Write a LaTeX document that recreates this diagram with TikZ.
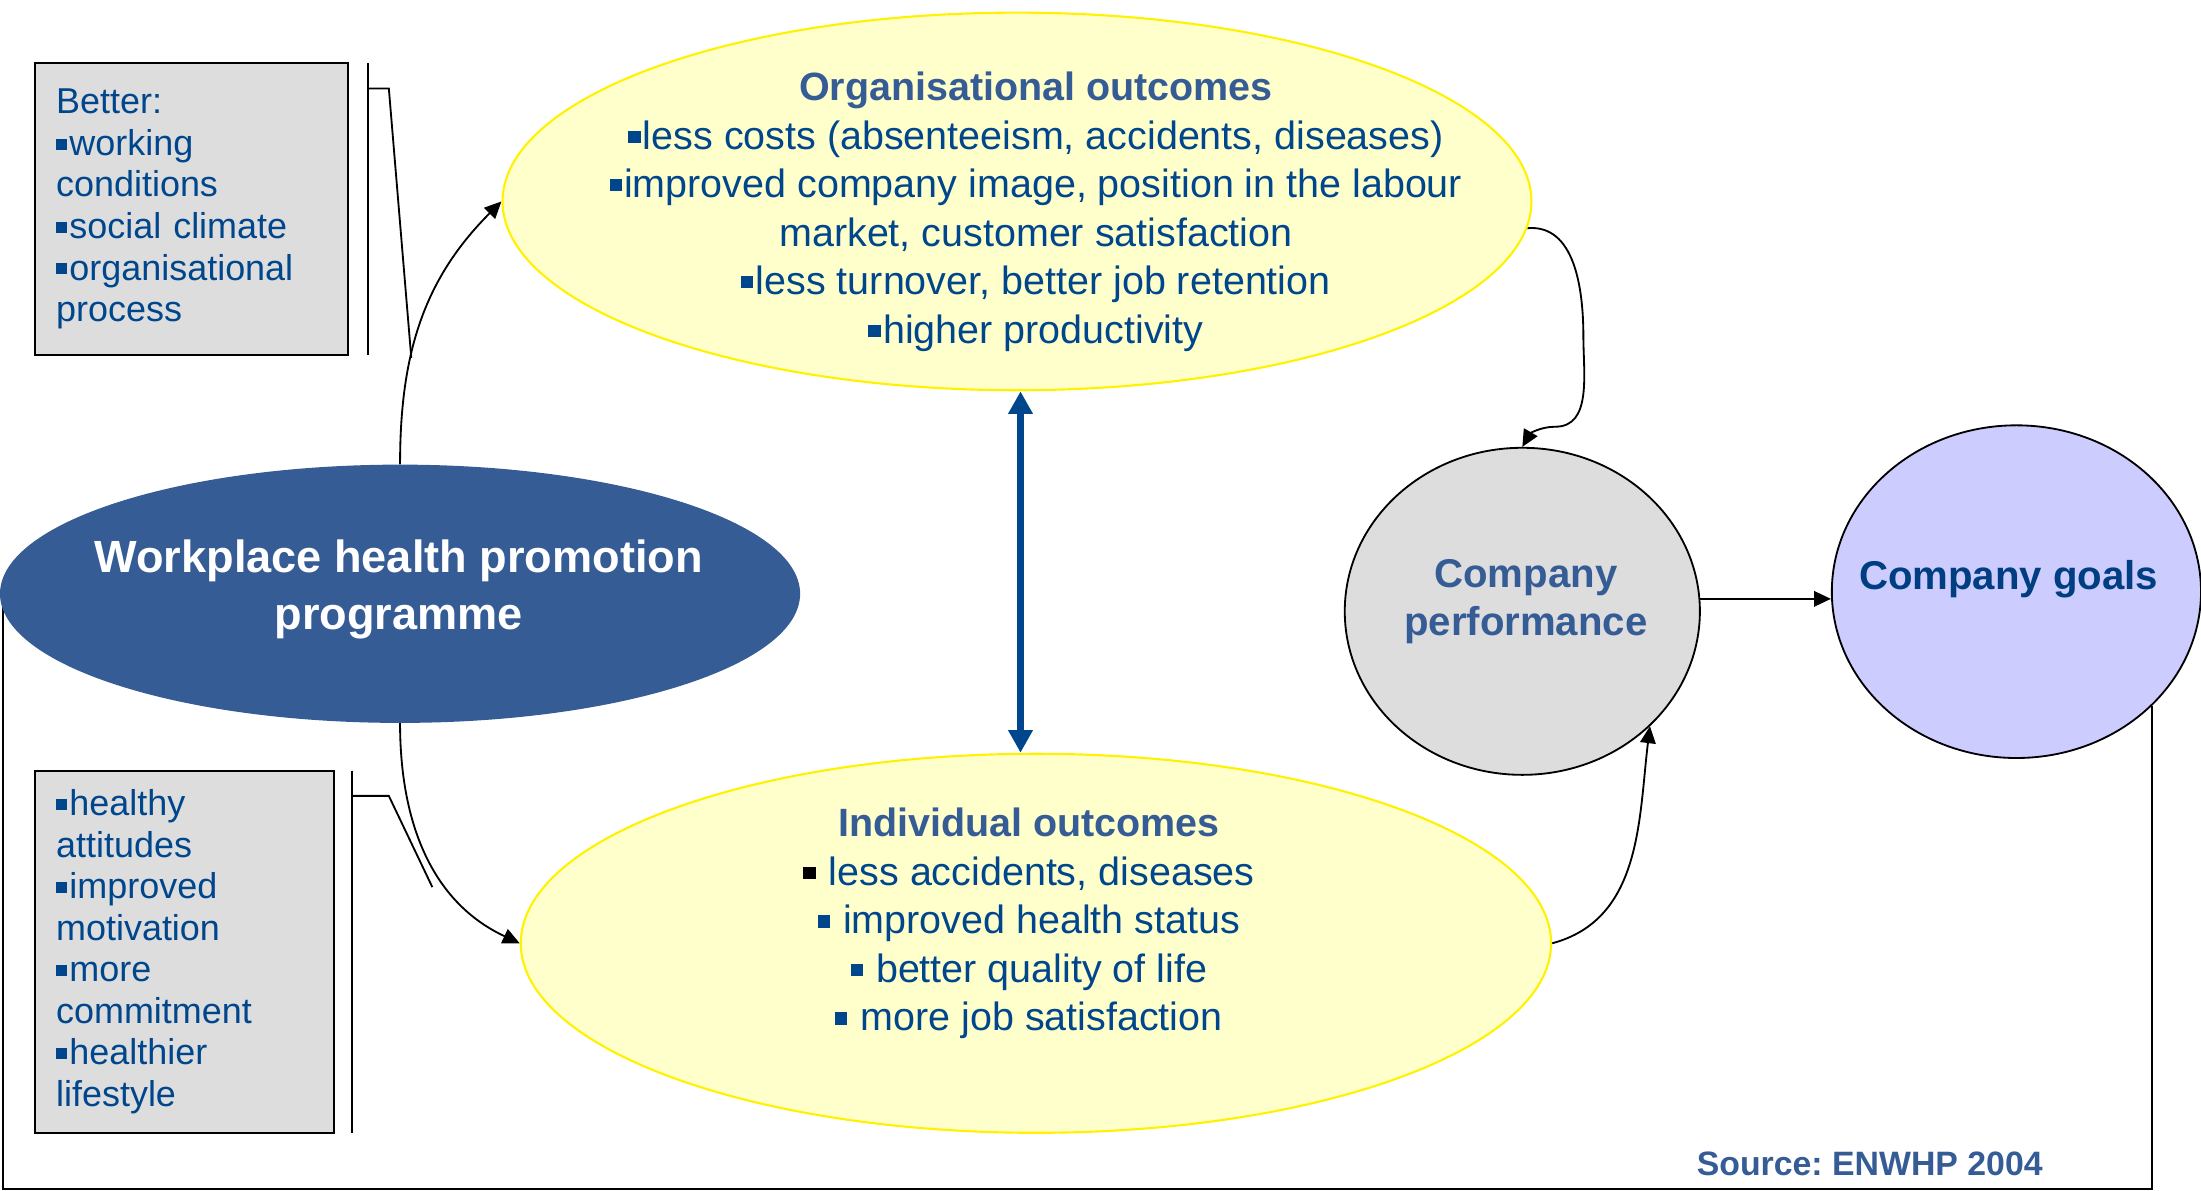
\documentclass[tikz,border=0pt]{standalone}
\usepackage{fontspec}
\setmainfont{Liberation Sans}
\usetikzlibrary{shapes.geometric,arrows.meta}
\pgfdeclarelayer{bg}
\pgfsetlayers{bg,main}
\frenchspacing
\definecolor{headblue}{RGB}{54,92,150}
\definecolor{itemblue}{RGB}{0,70,140}
\definecolor{goalblue}{RGB}{0,62,130}
\definecolor{outyellow}{RGB}{255,255,204}
\definecolor{boxgrey}{RGB}{221,221,221}
\definecolor{goallilac}{RGB}{204,204,255}
\newcommand{\sqb}{\rule[0.16em]{0.31em}{0.31em}\kern0.06em}
\tikzset{
    every node/.style={inner sep=0mm, text=itemblue}
}
\tikzset{
    blob/.style={ellipse, draw, line width=1.3pt},
    outcome/.style={ellipse, draw=yellow, fill=outyellow, line width=1.5pt},
    notebox/.style={rectangle, draw, fill=boxgrey, line width=1.6pt, align=left, inner xsep=0.525cm, font=\fontsize{25.5}{29.5}\selectfont},
    flow/.style={-{Triangle[length=12pt,width=11pt]}, line width=1.3pt},
    twoway/.style={{Triangle[length=16pt,width=16.5pt]}-{Triangle[length=16pt,width=16.5pt]}, line width=5.5pt, draw=itemblue}
}

\begin{document}
\begin{tikzpicture}
        \useasboundingbox (0cm, 0cm) rectangle (54.880000cm, -29.680000cm);
        \node (whp) [ellipse, fill=headblue, minimum width=19.950000cm, minimum height=6.440000cm] at (9.975000cm, -14.805000cm) {};
        \node (whptext) [align=center, text=white, font=\fontsize{32}{40}\selectfont\bfseries] at (9.940000cm, -14.700000cm) {Workplace health promotion\\programme};
        \node (org) [outcome, minimum width=25.655000cm, minimum height=9.415000cm] at (25.357500cm, -5.022500cm) {};
        \node (orgtext) [align=center, font=\fontsize{28}{34.4}\selectfont] at (25.830000cm, -5.280000cm) {{\bfseries\color{headblue}Organisational outcomes}\\\sqb less costs (absenteeism, accidents, diseases)\\\sqb improved company image, position in the labour\\market, customer satisfaction\\\sqb less turnover, better job retention\\\sqb higher productivity};
        \node (ind) [outcome, minimum width=25.690000cm, minimum height=9.450000cm] at (25.830000cm, -23.520000cm) {};
        \node (indtext) [align=center, font=\fontsize{28}{34.4}\selectfont] at (25.655000cm, -23.030000cm) {{\bfseries\color{headblue}Individual outcomes}\\{\color{black}\sqb}{} less accidents, diseases\\\sqb{} improved health status\\\sqb{} better quality of life\\\sqb{} more job satisfaction};
        \node (perf) [blob, fill=boxgrey, minimum width=8.855000cm, minimum height=8.155000cm] at (37.957500cm, -15.242500cm) {};
        \node (perftext) [align=center, text=headblue, font=\fontsize{28.5}{34}\selectfont\bfseries] at (38.045000cm, -14.990000cm) {Company\\performance};
        \node (goals) [blob, fill=goallilac, minimum width=9.205000cm, minimum height=8.295000cm] at (50.277500cm, -14.752500cm) {};
        \node (goalstext) [text=goalblue, font=\fontsize{28.5}{34}\selectfont\bfseries] at (50.085000cm, -14.450000cm) {Company goals};
        \node (better) [notebox, text width=6.755000cm, minimum height=7.280000cm] at (4.777500cm, -5.215000cm) {Better:\\\sqb working\\conditions\\\sqb social climate\\\sqb organisational\\process\\[0.2cm]};
        \node (habits) [notebox, text width=6.405000cm, minimum height=9.030000cm] at (4.602500cm, -23.730000cm) {\sqb healthy\\attitudes\\\sqb improved\\motivation\\\sqb more\\commitment\\\sqb healthier\\lifestyle};
        \node (source) [text=headblue, font=\fontsize{24}{28}\selectfont\bfseries] at (46.620000cm, -29.015000cm) {Source: ENWHP 2004};
        \coordinate (bettop) at (9.170000cm, -1.575000cm);
        \coordinate (betbot) at (9.170000cm, -8.855000cm);
        \coordinate (betknee) at (9.695000cm, -2.205000cm);
        \coordinate (betend) at (10.255000cm, -8.925000cm);
        \coordinate (habtop) at (8.785000cm, -19.215000cm);
        \coordinate (habbot) at (8.785000cm, -28.245000cm);
        \coordinate (habknee) at (9.695000cm, -19.845000cm);
        \coordinate (habend) at (10.780000cm, -22.120000cm);
        \coordinate (orgturn) at (39.480000cm, -8.400000cm);
        \coordinate (orgbend) at (38.780000cm, -10.640000cm);
        \coordinate (fbleft) at (0.070000cm, -29.645000cm);
        \begin{pgfonlayer}{bg}
                \draw [line width=1.3pt] (bettop) -- (betbot);
                \draw [line width=1.3pt] (betknee -| bettop) -- (betknee) -- (betend);
                \draw [line width=1.3pt] (habtop) -- (habbot);
                \draw [line width=1.3pt] (habknee -| habtop) -- (habknee) -- (habend);
                \draw (whp.north) edge [flow, out=90, in=225] (org.west);
                \draw (whp.south) edge [flow, out=-90, in=155] (ind.west);
                \draw (ind.east) edge [flow, out=15, in=-97] (perf.-42);
                \draw (perf.4) edge [flow] (perf.4 -| goals.west);
                \draw [flow] (org.-3) to [out=5, in=90] (orgturn) to [out=-90, in=0] (orgbend) to [out=180, in=60] (perf.north);
                \draw [flow] (goals.-40) |- (fbleft) |- (whp.west);
                \draw [twoway] ([xshift=2.5pt]org.south) -- ([xshift=2.5pt]org.south |- ind.north);
        \end{pgfonlayer}
\end{tikzpicture}
\end{document}
